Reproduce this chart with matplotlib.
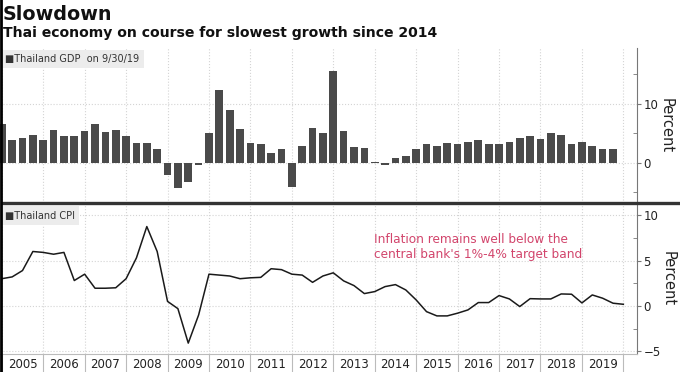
import matplotlib
matplotlib.use("Agg")
import matplotlib.pyplot as plt
import numpy as np
import pandas as pd
from matplotlib.lines import Line2D
from matplotlib.ticker import FixedLocator, NullFormatter

# Thailand GDP, YoY %, quarterly 2004Q4 .. 2019Q3
gdp_quarters = pd.period_range('2004Q4', '2019Q3', freq='Q')
gdp_values = [6.5,
              3.9, 4.2, 4.7, 3.9,
              5.5, 4.5, 4.5, 5.4,
              6.6, 5.2, 5.5, 4.5,
              3.3, 3.4, 2.3, -2.0,
              -4.3, -3.2, -0.4, 5.1,
              12.3, 9.0, 5.8, 3.3,
              3.2, 1.7, 2.4, -4.0,
              2.9, 5.9, 5.0, 15.5,
              5.4, 2.7, 2.5, 0.2,
              -0.4, 0.8, 1.1, 2.4,
              3.1, 2.9, 3.4, 3.1,
              3.5, 3.8, 3.1, 3.1,
              3.5, 4.2, 4.5, 4.0,
              5.0, 4.7, 3.2, 3.6,
              2.8, 2.4, 2.4]

# Thailand CPI, YoY %, quarterly 2004Q4 .. 2019Q4
cpi_quarters = pd.period_range('2004Q4', '2019Q4', freq='Q')
cpi_values = [3.0,
              3.2, 3.9, 6.0, 5.9,
              5.7, 5.9, 2.8, 3.5,
              1.95, 1.95, 2.0, 3.0,
              5.3, 8.75, 6.0, 0.5,
              -0.3, -4.1, -1.0, 3.5,
              3.4, 3.3, 3.0, 3.1,
              3.15, 4.1, 4.0, 3.5,
              3.4, 2.6, 3.3, 3.65,
              2.76, 2.24, 1.36, 1.58,
              2.13, 2.35, 1.76, 0.66,
              -0.63, -1.1, -1.1, -0.8,
              -0.44, 0.37, 0.37, 1.14,
              0.77, -0.07, 0.8, 0.77,
              0.77, 1.32, 1.29, 0.33,
              1.21, 0.85, 0.3, 0.18]

years = list(range(2005, 2020))


def quarter_end(periods):
    # decimal year at the end of each quarter
    return np.array([p.year + p.quarter / 4 for p in periods])


gdp_x = quarter_end(gdp_quarters)
cpi_x = quarter_end(cpi_quarters)

plt.rcParams['font.family'] = 'DejaVu Sans'

fig = plt.figure(figsize=(6.8, 3.72), dpi=100)
ax1 = fig.add_axes([0, 0.4556, 0.9368, 0.4154])
ax2 = fig.add_axes([0, 0.0484, 0.9368, 0.4072])

xmin, xmax = 2004.957, 2020.33
grid_kw = dict(color='#d4d4d4', linestyle=':', linewidth=0.8)

for ax in (ax1, ax2):
    ax.set_xlim(xmin, xmax)
    for s in ('top', 'left'):
        ax.spines[s].set_visible(False)
    ax.spines['right'].set_color('#777777')
    ax.yaxis.tick_right()
    ax.yaxis.set_label_position('right')
    ax.tick_params(axis='y', which='major', direction='out', length=3,
                   color='#777777', labelsize=8.5, pad=1.5, labelcolor='#222222')
    ax.tick_params(axis='y', which='minor', direction='in', length=3,
                   color='#777777')
    ax.set_ylabel('Percent', rotation=270, fontsize=10.5, labelpad=11,
                  color='#222222')
    ax.xaxis.set_major_locator(FixedLocator(years + [2020]))
    ax.grid(True, axis='both', which='major', **grid_kw)
    ax.set_axisbelow(True)

# top panel: GDP bars
ax1.bar(gdp_x, gdp_values, width=0.185, color='#4a4a4a', zorder=2)
ax1.set_ylim(-6.7, 19.4)
ax1.yaxis.set_major_locator(FixedLocator([0, 10]))
ax1.yaxis.set_minor_locator(FixedLocator([-5, 5, 15]))
ax1.spines['bottom'].set_visible(False)
ax1.tick_params(axis='x', which='both', length=0, labelbottom=False)
ax1.text(5 / 637, 0.929, '\u25a0Thailand GDP  on 9/30/19', transform=ax1.transAxes,
         fontsize=7, color='#333333', va='center', ha='left',
         bbox=dict(boxstyle='square,pad=0.45', fc='#ececec', ec='none'))

# bottom panel: CPI line
ax2.plot(cpi_x, cpi_values, color='#1a1a1a', linewidth=1.1, zorder=3)
ax2.set_ylim(-5.3, 11.4)
ax2.yaxis.set_major_locator(FixedLocator([-5, 0, 5, 10]))
ax2.yaxis.set_minor_locator(FixedLocator([-2.5, 2.5, 7.5]))
ax2.spines['bottom'].set_color('#bbbbbb')
ax2.xaxis.set_major_formatter(NullFormatter())
ax2.xaxis.set_minor_locator(FixedLocator([y + 0.5 for y in years]))
ax2.set_xticklabels([str(y) for y in years], minor=True)
ax2.tick_params(axis='x', which='major', direction='out', length=14,
                color='#bbbbbb', width=0.8)
ax2.tick_params(axis='x', which='minor', length=0, labelsize=8.5, pad=3,
                labelcolor='#222222')
ax2.text(5 / 637, 0.914, '\u25a0Thailand CPI', transform=ax2.transAxes,
         fontsize=7, color='#333333', va='center', ha='left',
         bbox=dict(boxstyle='square,pad=0.45', fc='#ececec', ec='none'))
ax2.text(2013.98, 6.5, "Inflation remains well below the\ncentral bank's 1%-4% target band",
         fontsize=8.7, color='#d2456c', va='center', ha='left', linespacing=1.25)

# titles
fig.text(3 / 680, 1 - 15 / 372, 'Slowdown', fontsize=13.8, fontweight='bold',
         va='center', ha='left', color='#111111')
fig.text(3 / 680, 1 - 33 / 372, 'Thai economy on course for slowest growth since 2014',
         fontsize=10.1, fontweight='bold', va='center', ha='left', color='#111111')

# heavy divider between the panels and dark left edge
fig.add_artist(Line2D([3 / 680, 1], [0.4556, 0.4556], transform=fig.transFigure,
                      color='#333333', linewidth=2.4))
fig.add_artist(Line2D([0.0015, 0.0015], [0, 1], transform=fig.transFigure,
                      color='black', linewidth=2))

fig.savefig('out.png', dpi=100)
